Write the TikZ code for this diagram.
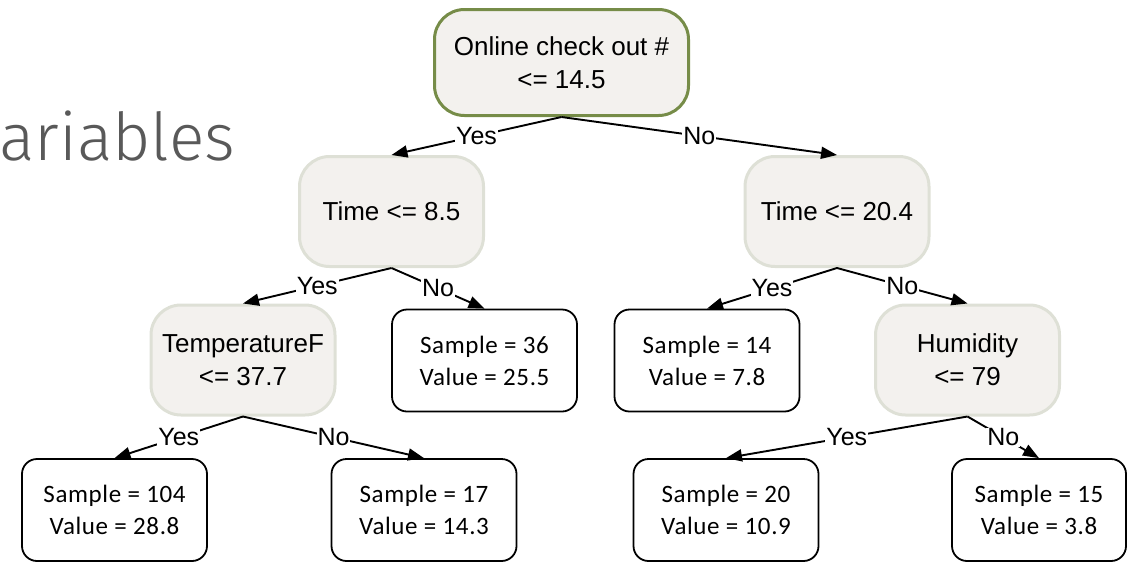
\documentclass[tikz,border=0pt]{standalone}
\usepackage{fontspec}
\setmainfont{Liberation Sans}
\newfontfamily\leaffont[LetterSpace=2.5]{Carlito}
\newfontfamily\titlefont{Fira Sans Light}
\usetikzlibrary{arrows.meta}
\definecolor{olive0}{RGB}{118,140,72}
\definecolor{paleln}{RGB}{222,224,214}
\definecolor{beige}{RGB}{243,241,238}
\definecolor{slate}{RGB}{89,89,89}
\begin{document}
\begin{tikzpicture}[
  x=1pt,y=-1pt,
  >={Triangle[length=16pt,width=12pt]},
  split/.style={draw=paleln,fill=beige,line width=3pt,rounded corners=30pt,align=center,
    minimum width=184pt,minimum height=110pt,font=\fontsize{26}{33}\selectfont},
  rootnode/.style={split,draw=olive0,minimum width=254pt,minimum height=106pt},
  leaf/.style={draw=black,fill=white,line width=1.8pt,rounded corners=15pt,align=center,
    minimum width=185pt,minimum height=102pt,font=\leaffont\fontsize{25}{32}\selectfont},
  flow/.style={->,line width=1.9pt},
  answer/.style={fill=white,inner sep=1pt,font=\fontsize{25}{30}\selectfont},
]
\useasboundingbox (0,0) rectangle (1129,563);
% ---- slide title remnant ----
\node[anchor=base west,inner sep=0pt,text=slate,font=\titlefont\fontsize{66}{76}\selectfont] (title) at (-1,160) {ariables};
% ---- tree ----
\node[rootnode] (root) at (561.5,62.5) {Online check out \#\\<= 14.5};
\node[split] (tlow)  at (391.5,211.5) {Time <= 8.5};
\node[split] (thigh) at (837,211.5)   {Time <= 20.4};
\node[split] (temp)  at (243,360)     {TemperatureF\\<= 37.7};
\node[leaf]  (l36)   at (484.5,360.5) {Sample = 36\\Value = 25.5};
\node[leaf]  (l14)   at (707,360.5)   {Sample = 14\\Value = 7.8};
\node[split] (hum)   at (967.5,360)   {Humidity\\<= 79};
\node[leaf]  (l104)  at (114.5,510)   {Sample = 104\\Value = 28.8};
\node[leaf]  (l17)   at (424,510)     {Sample = 17\\Value = 14.3};
\node[leaf]  (l20)   at (726,510)     {Sample = 20\\Value = 10.9};
\node[leaf,minimum width=174pt] (l15) at (1039,510) {Sample = 15\\Value = 3.8};
% ---- branches ----
\draw[flow] (root.south)  -- node[answer]{Yes} (tlow.north);
\draw[flow] (root.south)  -- node[answer]{No}  (thigh.north);
\draw[flow] (tlow.south)  -- node[answer]{Yes} (temp.north);
\draw[flow] (tlow.south)  -- node[answer]{No}  (l36.north);
\draw[flow] (thigh.south) -- node[answer]{Yes} (l14.north);
\draw[flow] (thigh.south) -- node[answer]{No}  (hum.north);
\draw[flow] (temp.south)  -- node[answer]{Yes} (l104.north);
\draw[flow] (temp.south)  -- node[answer]{No}  (l17.north);
\draw[flow] (hum.south)   -- node[answer]{Yes} (l20.north);
\draw[flow] (hum.south)   -- node[answer]{No}  (l15.north);
\end{tikzpicture}
\end{document}
